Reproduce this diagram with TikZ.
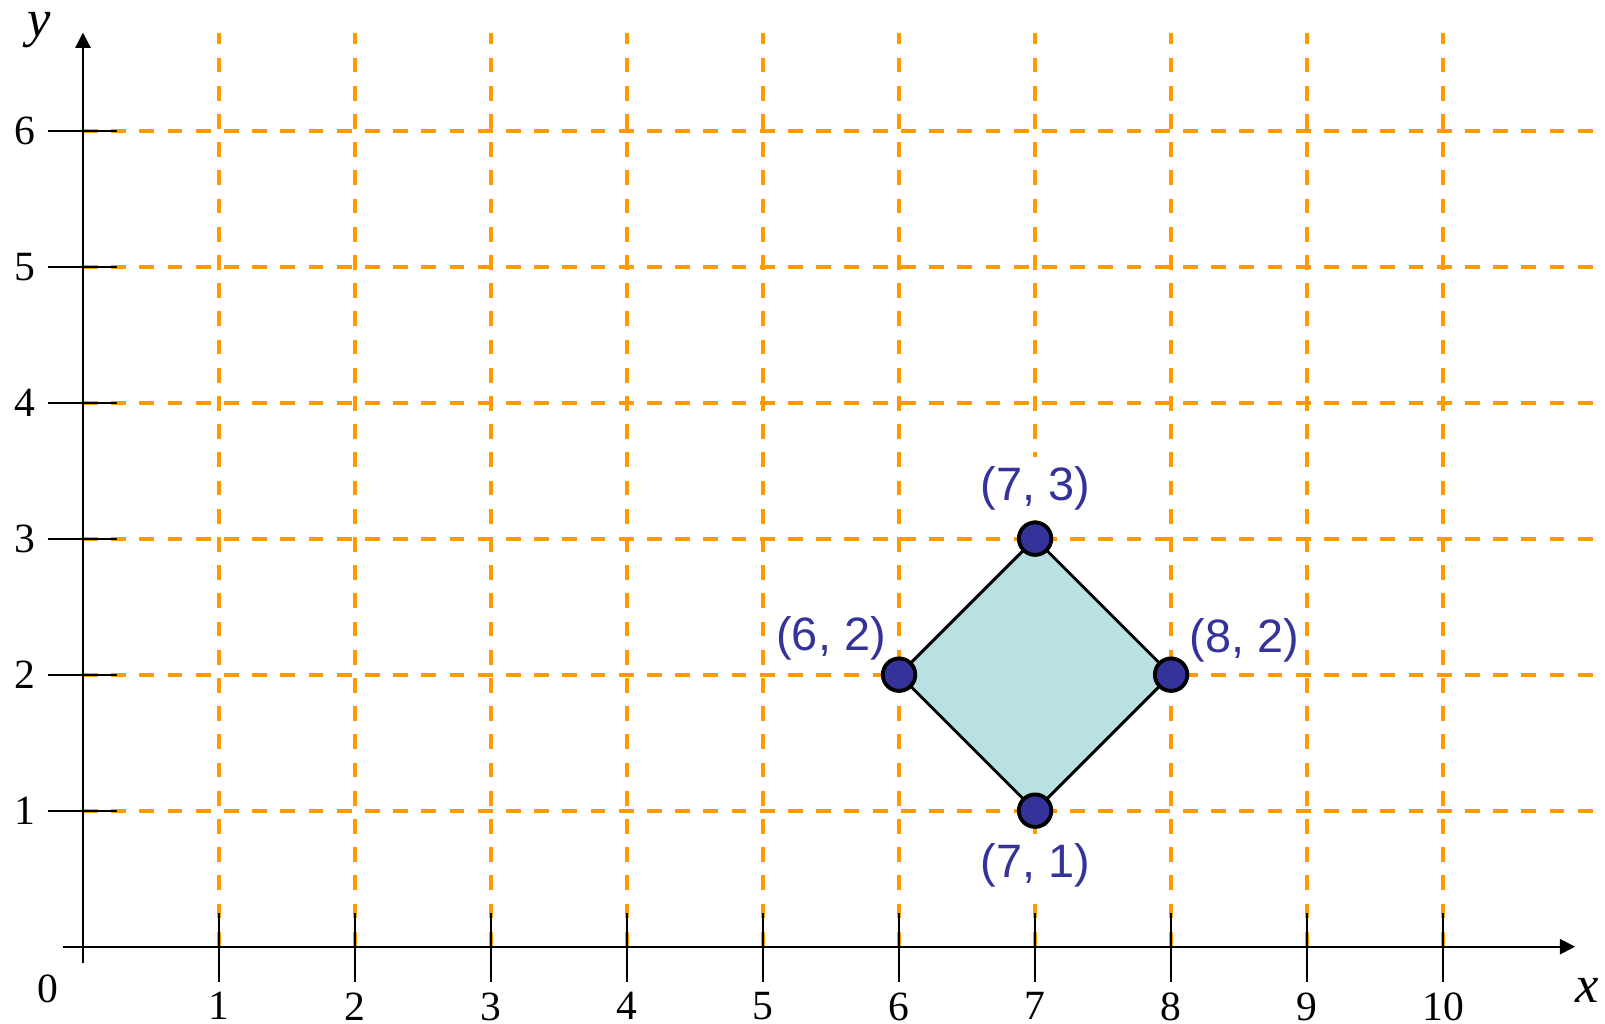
\documentclass[tikz,border=0pt]{standalone}
\usepackage{fontspec}
\setmainfont{Liberation Serif}
\newfontfamily\labelfont{Liberation Sans}
\usepackage{xcolor}
\usepackage{tikz}
\usetikzlibrary{positioning, arrows.meta}
\definecolor{gridorange}{RGB}{255,153,0}
\definecolor{shapefill}{RGB}{185,224,227}
\definecolor{ptblue}{RGB}{51,51,153}

\begin{document}
\begin{tikzpicture}[
    gridline/.style={gridorange, line width=0.85pt, dash pattern=on 3.1pt off 2.8pt},
    axisline/.style={line width=0.45pt, -{Triangle[length=3.2pt,width=3.2pt]}},
    tickmark/.style={line width=0.45pt},
    ticklabel/.style={font=\fontsize{8.7}{10}\selectfont, inner sep=0pt},
    axislabel/.style={font=\fontsize{11}{12}\selectfont\itshape, inner sep=0pt},
    vertex/.style={circle, draw=black, fill=ptblue, line width=0.8pt, minimum size=6.8pt, inner sep=0pt},
    coordlabel/.style={font=\labelfont\fontsize{9.8}{11}\selectfont, text=ptblue, inner sep=2pt},
    masked/.style={fill=white}
  ]
  \useasboundingbox (-0.61,-0.566) rectangle (11.19,6.96);
  % grid
  \foreach \x in {1,...,10}
    \draw[gridline] (\x,0) -- (\x,6.72);
  \foreach \y in {1,...,6}
    \draw[gridline] (0,\y) -- (11.19,\y);
  % axes
  \coordinate (xstart) at (-0.15,0);
  \coordinate (xend) at (10.97,0);
  \coordinate (ystart) at (0,-0.12);
  \coordinate (yend) at (0,6.72);
  \draw[axisline] (xstart) -- (xend);
  \draw[axisline] (ystart) -- (yend);
  \foreach \x in {1,...,10} {
    \draw[tickmark] (\x,0.25) -- (\x,-0.26);
    \node[ticklabel, anchor=north] (xtick\x) at (\x,-0.33) {\x};
  }
  \foreach \y in {1,...,6} {
    \draw[tickmark] (-0.26,\y) -- (0.25,\y);
    \node[ticklabel, anchor=east] (ytick\y) at (-0.34,\y) {\y};
  }
  \node[ticklabel] (orig) at (-0.26,-0.31) {0};
  \node[axislabel] (xlab) at (11.06,-0.32) {x};
  \node[axislabel] (ylab) at (-0.32,6.74) {y};
  % square
  \coordinate (top) at (7,3);
  \coordinate (right) at (8,2);
  \coordinate (bottom) at (7,1);
  \coordinate (left) at (6,2);
  \filldraw[fill=shapefill, draw=black, line width=0.6pt]
    (top) -- (right) -- (bottom) -- (left) -- cycle;
  \node[vertex] (ptop) at (top) {};
  \node[vertex] (pright) at (right) {};
  \node[vertex] (pbottom) at (bottom) {};
  \node[vertex] (pleft) at (left) {};
  % labels
  \node[coordlabel, masked, on grid, above=0.37 of ptop] (ltop) {(7, 3)};
  \node[coordlabel, masked, on grid, below=0.4 of pbottom] (lbottom) {(7, 1)};
  \node[coordlabel, on grid, above left=0.27 and 0.5 of pleft] (lleft) {(6, 2)};
  \node[coordlabel, on grid, above right=0.25 and 0.54 of pright] (lright) {(8, 2)};
\end{tikzpicture}
\end{document}
